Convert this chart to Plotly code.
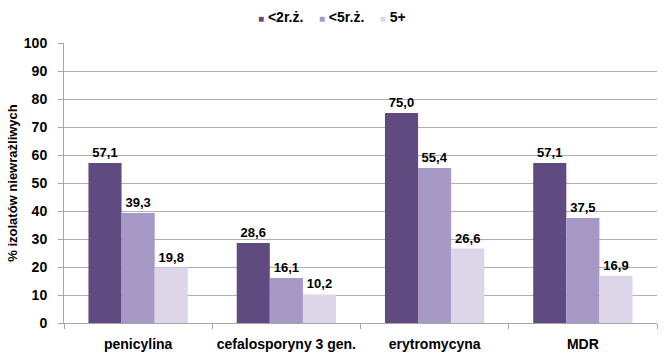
import plotly.graph_objects as go

categories = ["penicylina", "cefalosporyny 3 gen.", "erytromycyna", "MDR"]
series_names = ["<2r.ż.", "<5r.ż.", "5+"]
v_lt2 = [57.1, 28.6, 75.0, 57.1]
v_lt5 = [39.3, 16.1, 55.4, 37.5]
v_5p = [19.8, 10.2, 26.6, 16.9]
colors = ["#5f4b80", "#a699c6", "#dcd6e8"]
y_ticks = [0, 10, 20, 30, 40, 50, 60, 70, 80, 90, 100]

FONT = "Liberation Sans, Arial, sans-serif"

fig = go.Figure()
for name, vals, col in zip(series_names, [v_lt2, v_lt5, v_5p], colors):
    fig.add_trace(go.Bar(
        x=categories, y=vals, name=name,
        marker=dict(color=col, line=dict(width=0)),
        text=[f"{v:.1f}".replace(".", ",") for v in vals],
        textposition="outside",
        textfont=dict(family=FONT, size=13, color="#000000", weight="bold"),
        cliponaxis=False,
        showlegend=False,
    ))

# compact legend, built from the series names and colours
legend_html = "&#160;&#160;&#160;&#160;".join(
    f"<span style='color:{c};font-size:10px'>■</span>&#160;{n}"
    for n, c in zip(series_names, colors)
)

fig.update_layout(
    width=672, height=363,
    margin=dict(l=64, r=15, t=43, b=40, autoexpand=False),
    paper_bgcolor="white", plot_bgcolor="white",
    barmode="group", bargap=0.33, bargroupgap=0,
    font=dict(family=FONT, size=13, color="#000000", weight="bold"),
    annotations=[dict(
        text=legend_html, xref="paper", yref="paper", x=0.452, y=1.093,
        xanchor="center", yanchor="middle", showarrow=False,
        font=dict(family=FONT, size=14, color="#000000", weight="bold"),
    )],
)

fig.update_xaxes(
    showline=True, linecolor="#a6a6a6", linewidth=1,
    ticks="outside", tickson="boundaries", ticklen=5, tickcolor="#a6a6a6",
    tickfont=dict(size=14, weight="bold"), ticklabelstandoff=8, tickangle=0,
)
fig.update_yaxes(
    range=[0, 100], tickvals=y_ticks,
    showgrid=True, gridcolor="#b0b0b0", gridwidth=1,
    showline=True, linecolor="#a6a6a6", linewidth=1,
    ticks="outside", ticklen=5, tickcolor="#a6a6a6",
    tickfont=dict(size=14, weight="bold"), ticklabelstandoff=8,
    title=dict(text="% izolatów niewrażliwych", font=dict(size=13, weight="bold"), standoff=3),
    zeroline=False,
)

fig.write_html("out.html", config={"displayModeBar": False},
               post_script="document.body.style.margin='0';")
